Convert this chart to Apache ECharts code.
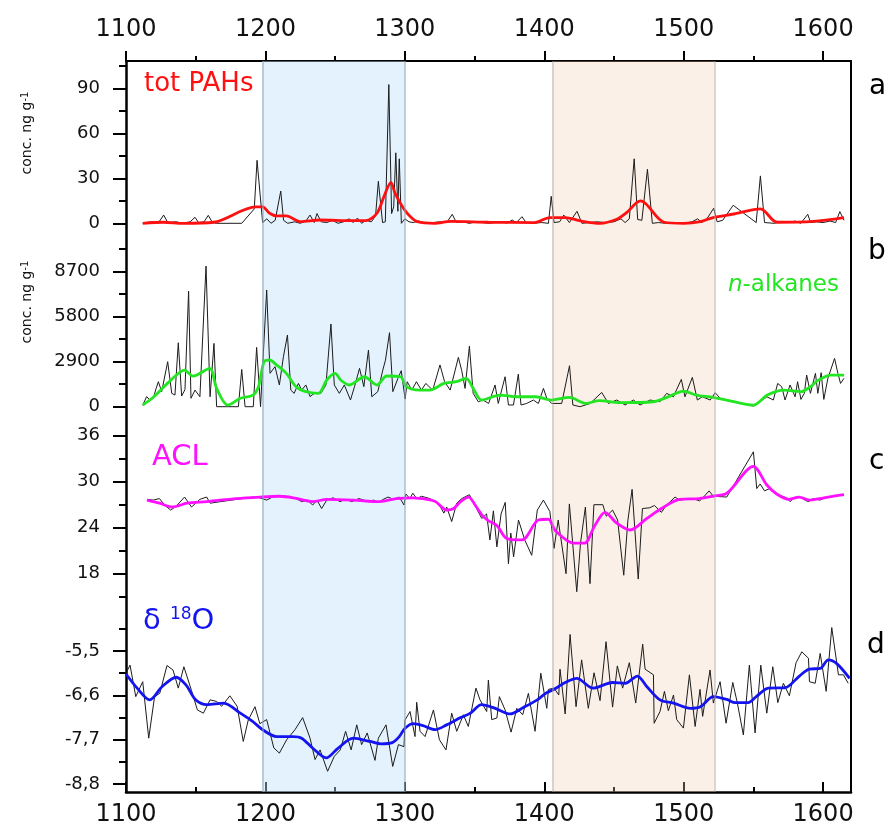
<!DOCTYPE html>
<html><head><meta charset="utf-8">
<script src="https://cdn.jsdelivr.net/npm/echarts@6/dist/echarts.min.js"></script>
<style>html,body{margin:0;padding:0;background:#fff}#chart{width:893px;height:828px}</style>
</head><body><div id="chart"></div>
<script>
// ---------------- DATA ----------------
const xTickLabels = [1100, 1200, 1300, 1400, 1500, 1600];
const xMinorTicks = [1150, 1250, 1350, 1450, 1550];
const bandStarts = [1197.8, 1406];
const bandEnds = [1300, 1522];

// a: total PAHs (ng/g)
const pahYears = [1112,1118,1123,1127,1130,1136,1141,1146,1149.5,1152,1156,1159,1162,1165,1183,1192,1194,1198,1201,1204,1207,1211,1213,1216,1221,1225,1229,1232,1235,1237,1240,1244,1248,1252,1256,1260,1263,1266,1269,1272,1276,1279,1281,1284,1286,1288.5,1290.5,1292,1293.5,1295,1296,1297.5,1300,1303,1306,1310,1315,1320,1325,1330,1334,1337,1342,1346,1352,1356,1360,1365,1370,1373,1377,1380,1384,1387,1392,1398,1403,1405,1407,1411,1414,1418,1423.5,1427,1432,1438,1444,1450,1455,1458,1461,1464.5,1467,1470,1474,1477.5,1482,1487,1495,1500,1506,1510,1513,1517,1521.5,1524,1528,1535.5,1552,1555,1558,1565,1570,1575,1580,1584,1589,1591,1595,1600,1605,1609,1612,1615];
const pahValues = [0,1,0,5.5,0.5,1,0,1,4,0.5,1,5.3,0.5,0,0,9.6,42,0.5,3,0,2,21.5,2,0,1,0,1.5,5.5,0.5,6.5,1,0.5,2,0,1,3,0.5,3.5,0,2,1,5,28,0.5,1,92.5,6.5,11,47,8,43,0,3,1,0.5,1.5,0,0.5,1,0.5,6,0.5,1,0,1,0.5,0,0.5,1,0,2.2,0.5,4.4,0.5,0,0.5,0,18,0.5,1,5.5,0.5,8,0,0.5,1,0.5,1,3,0.5,3,43,2.5,2,36,0,0.5,0,0.5,0,1,3,0.5,3.5,10,1,2,12,0.5,31.6,0.5,0,1,0.5,1.5,0,6,0.5,1,0.5,1.5,0.5,7.8,2];
const pahFitYears = [1112,1127,1141,1163,1193,1198,1203,1208,1215,1225,1239,1263,1272,1280,1285,1290,1293,1299,1304,1309,1321,1333,1360,1393,1404,1415,1426,1440,1452,1459,1469,1473,1486,1500,1512,1521,1536,1555,1567,1593,1615];
const pahFitValues = [0,0.7,0,0.7,10.9,10.9,6.7,4.9,4.9,1.1,2.2,1.8,1.8,6.7,17.8,27.3,20,10,4.4,1.1,0,1.3,0.7,0.5,3.8,3.8,1.6,0,2.7,7.1,14.9,12.9,0.7,0,1.1,3.8,6.2,9.6,0.7,1.3,3.8];
const pahTicks = [0, 30, 60, 90];
const pahMinor = [15, 45, 75, 105];

// b: n-alkanes (ng/g)
const alkYears = [1112,1114.8,1117.2,1119.6,1121.5,1123.2,1125.6,1129.9,1132.8,1135.1,1137.5,1139.9,1142.3,1144.9,1146.6,1149.5,1153,1157.4,1160.3,1163.1,1165,1180.6,1183,1185.4,1191.3,1193.7,1196.5,1200.9,1203.3,1206.9,1210,1212.9,1215.8,1218.2,1220.6,1223.7,1226,1229,1232,1235,1239.8,1243.4,1247,1249.4,1253,1256.6,1261,1263.9,1267.5,1270.6,1273.9,1276.3,1280.6,1284.2,1286.1,1289,1291.4,1295,1297.4,1300.2,1301.7,1305,1308.3,1311.9,1315,1320,1325.2,1328.5,1332.5,1338.4,1340.8,1343.2,1346.3,1349,1352.7,1356,1360.1,1364.7,1367,1371.9,1374.3,1377.9,1381.4,1383.3,1387.4,1392.2,1395.8,1399.4,1401.8,1405.3,1412.5,1418.1,1420.5,1425.7,1432.9,1441.2,1446,1452,1458,1463.9,1468.7,1475.9,1483,1487.8,1492.6,1498.3,1500.9,1506.2,1509.8,1513.4,1519,1522.6,1526.2,1550.1,1559.7,1564.3,1567.4,1570.3,1572.7,1576.3,1579.9,1581.7,1584.1,1586.5,1588.2,1590.9,1594.5,1596.2,1598.6,1600.5,1603.4,1608.2,1610.6,1612.5,1615];
const alkValues = [100,650,430,540,1150,1610,970,2900,860,750,4120,690,1100,7450,540,1070,640,9060,640,4080,0,0,2400,0,0,3820,0,7520,2150,2580,1400,3220,4620,1070,860,1500,1070,1400,650,860,860,1400,5330,1400,860,1400,430,1290,2470,1290,3650,640,970,2360,3000,4770,970,1820,2320,490,1610,1070,1610,1070,1500,1070,2690,1610,1070,3180,2320,1180,3900,860,320,430,210,1400,210,1930,110,110,2100,110,210,430,210,1180,540,210,210,2640,110,0,210,920,210,430,110,430,110,430,320,860,640,1760,640,1890,430,640,430,900,540,40,640,430,1500,1290,430,1400,640,1610,470,860,2040,860,2150,860,2190,470,1820,3110,2150,1500,1830];
const alkFitYears = [1112,1120,1132,1142,1148,1160,1165,1173,1182,1191,1195,1199,1203,1208,1215,1222,1229,1238,1244,1250,1254,1260,1271,1280,1287,1297,1301,1311,1318,1328,1337,1344,1349,1355,1368,1380,1394,1405,1418,1430,1439.5,1454,1478,1488,1500,1509,1521,1536,1550,1560,1572,1584,1591,1596,1605.5,1615];
const alkFitValues = [107,640,1700,2360,1970,2470,1180,107,540,750,1290,2900,3010,2690,2150,1290,970,860,1720,2150,1720,1400,1930,1400,1980,1930,1290,1070,1070,1500,1610,1830,1180,430,750,640,640,430,600,215,390,260,320,600,1010,750,600,320,107,750,1070,970,1290,1680,2040,2040];
const alkTicks = [0, 2900, 5800, 8700];
const alkMinor = [1450, 4350, 7250, 10150];

// c: ACL
const aclYears = [1115.3,1119.6,1124,1128,1132,1136,1142,1147,1153,1157.9,1160.3,1191,1196,1200.9,1205,1210,1215,1222,1226,1230,1233.9,1237,1240.3,1244,1248.5,1253.5,1257.5,1262,1267,1273.9,1277.5,1281,1284.5,1288,1291.7,1296,1299.4,1300.7,1303.6,1305.7,1308.5,1312,1318,1324,1328,1330,1333.6,1337.2,1340.8,1346.3,1350,1355.2,1358.6,1361,1363.5,1366,1369,1372,1374.3,1376,1378,1381.5,1386,1391,1395,1399.4,1404,1407,1410,1415.6,1418,1423.3,1426,1429.5,1432.8,1435.6,1442,1444.5,1449,1452.6,1457,1460,1463,1467.4,1470.4,1475.7,1479,1484,1487.5,1493.8,1497,1502,1506.6,1511.4,1514.3,1518.2,1521.3,1530.9,1550,1552.4,1554.8,1558,1561.5,1565,1569,1573.8,1576.3,1578.7,1583.5,1587,1589.4,1593,1597.8,1602.6,1607.4,1611,1614.6];
const aclValues = [27.7,27.6,27.8,26.9,26.3,26.8,28.0,26.7,27.7,28.0,27.2,28.0,27.9,27.6,28.0,28.2,28.1,27.8,27.4,27.6,26.96,27.6,26.5,27.6,27.9,27.4,27.7,27.4,27.8,27.4,27.6,27.3,27.7,28.0,27.7,28.0,26.96,28.4,27.8,28.5,27.8,28.1,27.8,27.2,25.9,26.7,24.8,27.2,27.8,28.3,27.0,25.2,25.8,22.4,26.2,21.5,25.8,27.3,19.3,23.3,20.2,25.0,22.4,20.4,26.3,27.6,26.1,21.3,25.0,18.0,27.1,15.65,22,26.7,16.7,27.0,27.0,25.5,26.3,25.0,17.8,25.0,29.0,17.3,26.5,26.6,26.9,26.0,26.9,28.0,27.6,27.7,27.8,27.5,28.0,28.8,28.1,28.0,33.9,29.1,29.7,28.8,29.1,28.5,28.2,27.9,27.4,27.8,28.0,27.6,27.4,27.8,27.6,28.0,28.1,28.2,28.2];
const aclFitYears = [1115,1124,1133,1144,1158,1179,1196,1210,1220,1234,1244,1263,1282,1294,1306,1316,1322,1330,1335,1340,1345.6,1351,1356,1360,1366,1373,1384,1395.8,1403,1408,1421,1429,1436,1443.6,1452,1461.6,1473.5,1484,1497,1511,1521,1531,1550,1559.5,1566.7,1575.6,1582.8,1590,1597.3,1606.8,1615];
const aclFitValues = [27.6,27.2,26.7,27.2,27.4,27.8,28.0,28.1,27.9,27.4,27.7,27.6,27.4,27.8,27.9,27.7,27.4,26.3,26.5,27.4,28.0,26.8,25.5,24.9,24.3,22.6,22.4,25.0,25.1,23.6,22.0,22.0,24.2,26.0,24.6,23.7,25.2,26.5,27.7,27.8,28.1,28.5,32.0,29.6,28.4,27.7,28.0,27.6,27.8,28.1,28.3];
const aclTicks = [18, 24, 30, 36];
const aclMinor = [15, 21, 27, 33];

// d: delta 18O
const d18oYears = [1100,1102.9,1107,1112,1116.3,1120.5,1124.2,1129.4,1133.7,1137.5,1141.5,1147,1151.2,1155.5,1160.3,1165,1168.6,1174.5,1179.7,1184.1,1187.7,1192.5,1196,1200.9,1206,1210,1215.2,1221.2,1226.7,1232,1235.6,1239.2,1244.6,1249.4,1253.7,1257.5,1261.5,1265.5,1269,1273,1278.6,1281,1286.5,1291.3,1295.4,1299.4,1300.1,1303.7,1307.3,1308.5,1310.9,1314.5,1320.5,1324.8,1329.5,1333.6,1337.2,1342,1345.5,1351,1353.9,1358.7,1359.9,1362.3,1366,1367.8,1371.9,1376.2,1380.3,1384.5,1388.6,1393.4,1397.5,1401.8,1403,1407,1410.4,1411.3,1415,1418.5,1422.8,1426.8,1431.6,1435.7,1440,1444.3,1449,1452.4,1456.2,1461,1465.6,1470.6,1472.3,1478.3,1478.8,1483,1486.2,1489,1492.7,1495,1499.8,1504.1,1508.2,1511.7,1513.6,1518.9,1521.3,1526.1,1530.4,1535.2,1538.5,1542.8,1547.1,1551.2,1555.3,1559.6,1563.9,1567.5,1571.5,1575.8,1580.6,1584.7,1589.5,1590.2,1594.3,1597.9,1602.2,1606.2,1611,1614.6,1618];
const d18oValues = [-6.05,-5.85,-6.63,-6.26,-7.66,-6.63,-6.55,-5.86,-5.97,-6.42,-5.89,-6.48,-6.96,-7.04,-6.71,-6.75,-6.87,-6.61,-6.87,-7.74,-7.21,-6.88,-7.3,-7.2,-7.9,-8.03,-7.7,-7.45,-7.15,-7.66,-8.19,-7.95,-8.48,-8.11,-7.95,-7.49,-7.95,-7.33,-7.82,-7.53,-8.21,-7.66,-7.33,-8.36,-7.82,-7.87,-7.21,-7.0,-7.62,-6.77,-7.49,-7.62,-6.96,-7.7,-7.95,-7.04,-7.49,-7.08,-7.37,-6.42,-6.71,-7.0,-6.22,-7.2,-7.16,-6.63,-6.96,-7.51,-6.92,-7.08,-6.55,-7.49,-6.05,-6.92,-6.45,-6.42,-6.59,-5.95,-7.06,-5.09,-6.88,-5.72,-6.92,-6.04,-6.73,-5.27,-6.89,-5.87,-6.42,-5.79,-6.79,-5.33,-5.95,-6.09,-7.29,-7.0,-6.5,-6.98,-6.59,-7.2,-7.41,-6.09,-7.37,-6.45,-7.12,-5.97,-6.79,-6.26,-7.29,-6.28,-6.79,-7.58,-5.85,-7.53,-5.85,-7.04,-5.89,-6.78,-6.3,-6.61,-5.79,-5.52,-5.68,-6.26,-6.3,-5.56,-6.5,-4.92,-6.09,-6.09,-6.3];
const d18oFitYears = [1100,1108,1117,1126,1136,1143,1150,1158,1170,1182,1191,1198,1208,1220,1226,1234,1243.6,1252,1263,1275,1283,1291,1296,1300,1306,1313,1321.7,1330,1340,1347,1355,1364,1375.5,1385,1395,1401,1408,1415,1423.3,1435,1449,1458,1466.8,1473.5,1483,1492.7,1505,1512,1521.3,1530.9,1537,1546.2,1552,1560.7,1572.6,1583,1590,1598,1603.7,1610,1619];
const d18oFitValues = [-6.07,-6.42,-6.71,-6.38,-6.15,-6.34,-6.71,-6.83,-6.79,-7.04,-7.25,-7.45,-7.62,-7.62,-7.66,-7.91,-8.15,-7.91,-7.66,-7.74,-7.8,-7.77,-7.62,-7.42,-7.3,-7.35,-7.45,-7.33,-7.15,-7.04,-6.83,-6.91,-7.06,-6.9,-6.71,-6.55,-6.43,-6.28,-6.18,-6.42,-6.28,-6.3,-6.12,-6.38,-6.71,-6.79,-6.92,-6.88,-6.63,-6.7,-6.78,-6.78,-6.63,-6.42,-6.41,-6.12,-5.95,-5.93,-5.72,-5.82,-6.18];
const d18oTicks = [-8.8, -7.7, -6.6, -5.5];
const d18oMinor = [-8.25, -7.15, -6.05, -4.95];

// ---------------- LAYOUT ----------------
const FONT = 'DejaVu Sans';
const LEFT = 126, RIGHT = 42, TOP = 61, BOTTOM_Y = 792;
const XMIN = 1100, XMAX = 1620;

const panels = [
  {top: 61,  bottom: 240, refPx: 223.3, refVal: 0,    ppu: 1.5,        ticks: pahTicks, minor: pahMinor, fmt: v => String(Math.round(v)),
   raw: [pahYears, pahValues], fit: [pahFitYears, pahFitValues], color: '#ff1010'},
  {top: 240, bottom: 420, refPx: 406.7, refVal: 0,    ppu: 45 / 2900,  ticks: alkTicks, minor: alkMinor, fmt: v => String(Math.round(v)),
   raw: [alkYears, alkValues], fit: [alkFitYears, alkFitValues], color: '#22e622'},
  {top: 420, bottom: 608, refPx: 481.7, refVal: 30,   ppu: 46 / 6,     ticks: aclTicks, minor: aclMinor, fmt: v => String(Math.round(v)),
   raw: [aclYears, aclValues], fit: [aclFitYears, aclFitValues], color: '#ff10ff'},
  {top: 608, bottom: 792, refPx: 651,   refVal: -5.5, ppu: 44.4 / 1.1, ticks: d18oTicks, minor: d18oMinor, fmt: v => v.toFixed(1).replace('.', ','),
   raw: [d18oYears, d18oValues], fit: [d18oFitYears, d18oFitValues], color: '#1414f0'}
];

function pairs(xs, ys) { const n = Math.min(xs.length, ys.length); const out = []; for (let i = 0; i < n; i++) out.push([xs[i], ys[i]]); return out; }

const grids = [], xAxes = [], yAxes = [], series = [];
const frameH = BOTTOM_Y - TOP;
grids.push({left: LEFT, right: RIGHT, top: TOP, height: frameH, containLabel: false, outerBoundsMode: 'none'});
grids.push({left: LEFT, right: RIGHT, top: TOP, height: frameH, containLabel: false, outerBoundsMode: 'none'});
const xLabelStyle = {color: '#111', fontSize: 24, fontFamily: FONT, hideOverlap: false};
xAxes.push({gridIndex: 0, type: 'value', min: XMIN, max: XMAX, position: 'bottom',
  axisLine: {show: true, onZero: false, lineStyle: {color: '#000', width: 2.5}},
  axisTick: {show: true, inside: true, length: 10, lineStyle: {color: '#000', width: 2}, customValues: xTickLabels},
  axisLabel: Object.assign({show: true, margin: 11, customValues: xTickLabels, formatter: v => String(v)}, xLabelStyle),
  splitLine: {show: false}});
xAxes.push({gridIndex: 0, type: 'value', min: XMIN, max: XMAX, position: 'top',
  axisLine: {show: true, onZero: false, lineStyle: {color: '#000', width: 2}},
  axisTick: {show: true, inside: false, length: 10, lineStyle: {color: '#000', width: 2}, customValues: xTickLabels},
  axisLabel: Object.assign({show: true, margin: 19, customValues: xTickLabels, formatter: v => String(v)}, xLabelStyle),
  splitLine: {show: false}});
xAxes.push({gridIndex: 1, type: 'value', min: XMIN, max: XMAX, position: 'bottom',
  axisLine: {show: false, onZero: false}, axisTick: {show: true, inside: true, length: 5, lineStyle: {color: '#000', width: 2}, customValues: xMinorTicks},
  axisLabel: {show: false}, splitLine: {show: false}});
xAxes.push({gridIndex: 1, type: 'value', min: XMIN, max: XMAX, position: 'top',
  axisLine: {show: false, onZero: false}, axisTick: {show: true, inside: false, length: 5, lineStyle: {color: '#000', width: 2}, customValues: xMinorTicks},
  axisLabel: {show: false}, splitLine: {show: false}});
yAxes.push({gridIndex: 0, type: 'value', min: 0, max: 1, position: 'left',
  axisLine: {show: true, onZero: false, lineStyle: {color: '#000', width: 2.5}}, axisTick: {show: false}, axisLabel: {show: false}, splitLine: {show: false}});
yAxes.push({gridIndex: 0, type: 'value', min: 0, max: 1, position: 'right',
  axisLine: {show: true, onZero: false, lineStyle: {color: '#000', width: 2}}, axisTick: {show: false}, axisLabel: {show: false}, splitLine: {show: false}});
yAxes.push({gridIndex: 1, type: 'value', min: 0, max: 1, show: false});

panels.forEach((p, i) => {
  const min = p.refVal - (p.bottom - p.refPx) / p.ppu;
  const max = p.refVal + (p.refPx - p.top) / p.ppu;
  grids[2 + i] = {left: LEFT, right: RIGHT, top: p.top, height: p.bottom - p.top, containLabel: false, outerBoundsMode: 'none'};
  grids[6 + i] = {left: LEFT, right: RIGHT, top: p.top, height: p.bottom - p.top, containLabel: false, outerBoundsMode: 'none'};
  xAxes[4 + i] = {gridIndex: 2 + i, type: 'value', min: XMIN, max: XMAX, show: false};
  xAxes[8 + i] = {gridIndex: 6 + i, type: 'value', min: XMIN, max: XMAX, show: false};
  yAxes[3 + i] = {gridIndex: 2 + i, type: 'value', min: min, max: max, position: 'left',
    axisLine: {show: false, onZero: false},
    axisTick: {show: true, inside: false, length: 13, lineStyle: {color: '#000', width: 2}, customValues: p.ticks},
    axisLabel: {show: true, margin: 26, customValues: p.ticks, formatter: p.fmt, color: '#111', fontSize: 18, fontFamily: FONT, hideOverlap: false},
    splitLine: {show: false}};
  yAxes[7 + i] = {gridIndex: 6 + i, type: 'value', min: min, max: max, position: 'left',
    axisLine: {show: false, onZero: false},
    axisTick: {show: true, inside: false, length: 7, lineStyle: {color: '#000', width: 2}, customValues: p.minor},
    axisLabel: {show: false}, splitLine: {show: false}};
  series.push({type: 'line', xAxisIndex: 4 + i, yAxisIndex: 3 + i, data: pairs(p.raw[0], p.raw[1]),
    symbol: 'none', lineStyle: {color: '#1c1c1c', width: 1}, z: 2, silent: true});
  series.push({type: 'line', xAxisIndex: 4 + i, yAxisIndex: 3 + i, data: pairs(p.fit[0], p.fit[1]),
    symbol: 'none', smooth: 0.3, lineStyle: {color: p.color, width: 2.8}, z: 3, silent: true});
});

// shaded periods, drawn above the curves (translucent), with thin edge lines
const bandFill = ['rgba(190,225,250,0.42)', 'rgba(240,205,175,0.30)'];
const bandEdge = ['rgba(140,165,190,0.7)', 'rgba(175,165,160,0.6)'];
series.push({type: 'line', xAxisIndex: 0, yAxisIndex: 0, data: [[XMIN, 0.5]], symbol: 'none',
  lineStyle: {opacity: 0}, silent: true, z: 10,
  markArea: {silent: true, data: bandStarts.map((s, i) => [
    {xAxis: s, itemStyle: {color: bandFill[i], borderWidth: 0}},
    {xAxis: bandEnds[i]}])},
  markLine: {silent: true, symbol: ['none', 'none'], label: {show: false}, animation: false,
    data: bandStarts.concat(bandEnds).map((v, k) => ({xAxis: v,
      lineStyle: {type: 'solid', width: 1.5, color: bandEdge[k % 2]}}))}});

const txt = (x, y, text, fill, size, extra) => Object.assign({type: 'text', x: x, y: y, z: 100, silent: true,
  style: Object.assign({text: text, fill: fill, fontSize: size, fontFamily: FONT, align: 'left', verticalAlign: 'middle'}, extra || {})});

const graphics = [
  txt(144, 84, 'tot PAHs', '#ff1010', 26),
  txt(839, 285, '{i|n}{r|-alkanes}', '#22e622', 23, {align: 'right', rich: {
    i: {fontStyle: 'italic', fontSize: 23, fontFamily: FONT, fill: '#22e622', color: '#22e622'},
    r: {fontSize: 23, fontFamily: FONT, fill: '#22e622', color: '#22e622'}}}),
  txt(152, 457, 'ACL', '#ff10ff', 29),
  txt(143, 621, '{d|δ }{s|18}{o|O}', '#1414f0', 28, {rich: {
    d: {fontSize: 29, fontFamily: FONT, fill: '#1414f0', color: '#1414f0'},
    s: {fontSize: 17, fontFamily: FONT, fill: '#1414f0', color: '#1414f0', verticalAlign: 'top'},
    o: {fontSize: 29, fontFamily: FONT, fill: '#1414f0', color: '#1414f0'}}}),
  txt(869, 87, 'a', '#000', 28),
  txt(868, 252, 'b', '#000', 28),
  txt(869, 462, 'c', '#000', 28),
  txt(867, 646, 'd', '#000', 28),
  Object.assign(txt(27, 133, '{m|conc. ng g}{s|-1}', '#111', 14, {align: 'center', rich: {
    m: {fontSize: 14, fontFamily: FONT, fill: '#111', color: '#111'},
    s: {fontSize: 10, fontFamily: FONT, fill: '#111', color: '#111', verticalAlign: 'top'}}}), {rotation: Math.PI / 2}),
  Object.assign(txt(27, 302, '{m|conc. ng g}{s|-1}', '#111', 14, {align: 'center', rich: {
    m: {fontSize: 14, fontFamily: FONT, fill: '#111', color: '#111'},
    s: {fontSize: 10, fontFamily: FONT, fill: '#111', color: '#111', verticalAlign: 'top'}}}), {rotation: Math.PI / 2})
];

const chart = echarts.init(document.getElementById('chart'), null, {renderer: 'canvas'});
chart.setOption({
  animation: false,
  backgroundColor: '#ffffff',
  grid: grids, xAxis: xAxes, yAxis: yAxes, series: series,
  graphic: graphics
});
</script>
</body></html>
